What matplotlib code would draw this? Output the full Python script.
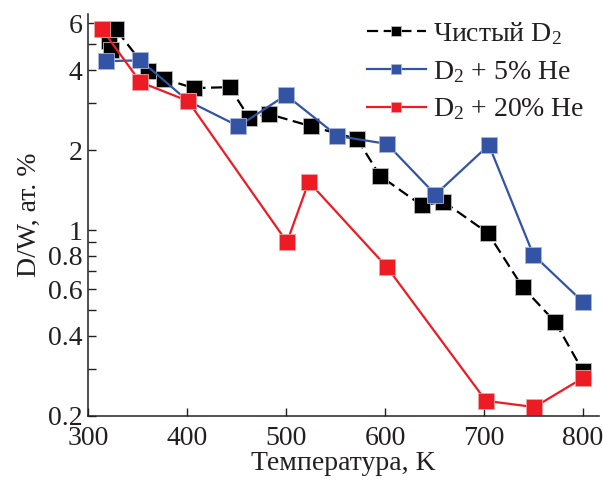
import matplotlib
matplotlib.use("Agg")
import matplotlib.pyplot as plt
from matplotlib.ticker import FixedLocator, NullLocator, FixedFormatter

plt.rcParams['font.family'] = ['Liberation Serif', 'DejaVu Serif']
plt.rcParams['mathtext.fontset'] = 'custom'
plt.rcParams['mathtext.rm'] = 'Liberation Serif'
plt.rcParams['mathtext.it'] = 'Liberation Serif:italic'

# Data
t_pure = [321, 323, 328, 361, 377, 407, 443, 463, 483, 525, 572, 595, 637, 659, 704, 739, 772, 800]
v_pure = [5.14, 4.75, 5.70, 3.96, 3.70, 3.42, 3.45, 2.64, 2.73, 2.46, 2.20, 1.60, 1.24, 1.28, 0.975, 0.611, 0.451, 0.295]

t_he5 = [318, 353, 401, 452, 500, 552, 602, 651, 705, 750, 800]
v_he5 = [4.32, 4.35, 3.06, 2.46, 3.22, 2.26, 2.11, 1.36, 2.09, 0.806, 0.537]

t_he20 = [314, 353, 401, 501, 523, 602, 702, 751, 800]
v_he20 = [5.70, 3.60, 3.06, 0.902, 1.52, 0.726, 0.228, 0.216, 0.278]

labels = ["Чистый D$_2$", "D$_2$ + 5% He", "D$_2$ + 20% He"]
x_ticks = [300, 400, 500, 600, 700, 800]
y_major = [0.2, 0.4, 0.6, 0.8, 1, 2, 4, 6]
y_major_labels = ["0.2", "0.4", "0.6", "0.8", "1", "2", "4", "6"]
y_minor = [0.3, 0.5, 0.7, 0.9, 3, 5]

c_black = "#000000"
c_blue = "#3353a4"
c_red = "#ed1c24"
c_text = "#231f20"

fig = plt.figure(figsize=(6.03, 4.82), dpi=100)
ax = fig.add_axes([0.146, 0.137, 0.847, 0.834])

ms = 11
ax.plot(t_pure, v_pure, color=c_black, lw=1.6, ls=(0, (5, 2.5)), marker='s', ms=ms,
        mfc=c_black, mec='#bbbbbb', mew=0.6, label=labels[0])
ax.plot(t_he5, v_he5, color=c_blue, lw=1.6, marker='s', ms=ms,
        mfc=c_blue, mec='#aab4d8', mew=0.6, label=labels[1])
ax.plot(t_he20, v_he20, color=c_red, lw=1.6, marker='s', ms=ms,
        mfc=c_red, mec='#f4a0a0', mew=0.6, label=labels[2])

ax.set_yscale('log')
ax.set_xlim(300, 816)
ax.set_ylim(0.2, 6.5)
ax.xaxis.set_major_locator(FixedLocator(x_ticks))
ax.xaxis.set_minor_locator(NullLocator())
ax.yaxis.set_major_locator(FixedLocator(y_major))
ax.yaxis.set_major_formatter(FixedFormatter(y_major_labels))
ax.yaxis.set_minor_locator(FixedLocator(y_minor))
ax.yaxis.set_minor_formatter(FixedFormatter([""] * len(y_minor)))

for s in ['top', 'right']:
    ax.spines[s].set_visible(False)
for s in ['left', 'bottom']:
    ax.spines[s].set_linewidth(1.1)
    ax.spines[s].set_color(c_text)

ax.tick_params(axis='both', which='both', direction='in', length=6, width=1.0,
               labelsize=20, colors=c_text, pad=4)
ax.tick_params(axis='x', pad=7)

ax.set_xlabel("Температура, K", fontsize=20, color=c_text, labelpad=0)
ax.set_ylabel("D/W, ат. %", fontsize=20, color=c_text, labelpad=4)

leg = ax.legend(loc='upper right', bbox_to_anchor=(0.994, 1.012), frameon=False, fontsize=20,
                handlelength=2.15, handletextpad=0.25, labelspacing=0.42, markerscale=0.65,
                borderaxespad=0.0)
for t in leg.get_texts():
    t.set_color(c_text)

fig.savefig("out.png", dpi=100)
